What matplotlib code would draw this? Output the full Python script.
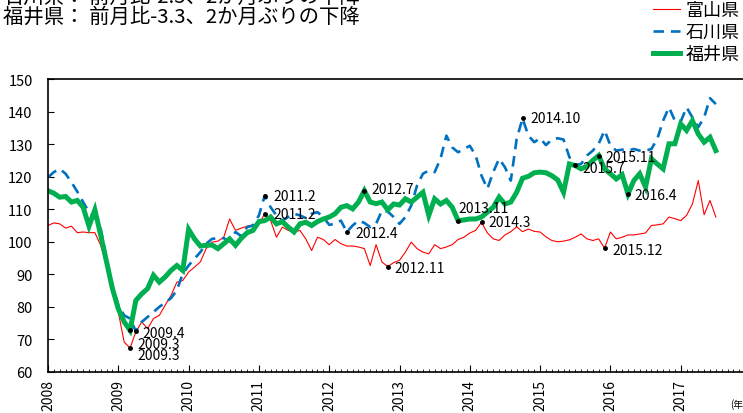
import numpy as np
import matplotlib
matplotlib.use('Agg')
import matplotlib.pyplot as plt
from matplotlib.ticker import FixedLocator, MultipleLocator

plt.rcParams['font.family'] = ['Noto Sans CJK JP', 'DejaVu Sans']

# monthly index, 2008.1 -> 2017.7
years = list(range(2008, 2018))

toyama = [105.0, 105.8, 105.5, 104.2, 104.8, 102.8, 103.0, 102.8, 102.8, 98.9,
          92.7, 85.6, 78.4, 69.2, 67.4, 72.3, 75.4, 73.3, 76.4, 77.4,
          80.5, 83.5, 87.6, 88.1, 90.7, 92.2, 93.8, 97.9, 99.9, 100.2,
          101.4, 107.0, 103.5, 104.2, 104.8, 105.2, 105.5, 108.6, 106.5, 101.4,
          104.5, 103.5, 103.0, 103.5, 100.9, 97.3, 101.4, 100.7, 99.1, 100.7,
          99.4, 98.7, 98.7, 98.4, 97.9, 92.7, 99.1, 93.8, 92.4, 93.6,
          94.3, 96.8, 99.9, 97.9, 96.8, 96.3, 99.1, 97.9, 98.4, 99.1,
          100.7, 101.4, 102.7, 103.5, 106.0, 102.7, 100.9, 100.4, 102.1, 103.1,
          104.6, 103.1, 103.9, 103.2, 103.0, 101.5, 100.4, 100.0, 100.2, 100.6,
          101.4, 102.4, 100.9, 100.4, 100.9, 98.0, 103.0, 100.9, 101.4, 102.1,
          102.1, 102.4, 102.7, 105.0, 105.2, 105.5, 107.6, 107.1, 106.5, 108.1,
          111.6, 118.8, 108.3, 112.7, 107.6]

ishikawa = [119.8, 121.4, 122.4, 120.9, 118.3, 115.4, 112.2, 109.1, 107.6, 104.0,
            94.8, 86.6, 80.5, 77.4, 76.4, 72.5, 75.4, 76.9, 78.4, 80.0,
            81.3, 82.7, 85.1, 90.2, 92.7, 94.8, 96.8, 99.4, 100.9, 101.1,
            101.1, 100.1, 103.0, 101.7, 104.5, 105.0, 108.1, 114.2, 110.6, 108.1,
            106.5, 107.6, 108.6, 108.1, 107.3, 108.6, 109.1, 107.6, 105.2, 105.5,
            106.5, 103.0, 105.0, 106.5, 105.8, 104.5, 105.5, 109.6, 109.3, 107.6,
            105.5, 107.6, 111.1, 117.3, 120.9, 121.9, 121.4, 125.5, 132.6, 129.0,
            127.5, 128.5, 129.5, 126.5, 120.3, 116.3, 121.4, 125.5, 122.9, 118.8,
            131.6, 137.9, 132.6, 130.6, 131.8, 129.7, 131.4, 131.8, 131.4, 126.0,
            123.6, 123.9, 126.5, 128.0, 130.1, 134.2, 129.6, 128.0, 128.3, 128.0,
            128.5, 128.0, 128.0, 128.5, 131.6, 137.2, 141.3, 137.2, 136.9, 141.3,
            138.2, 135.2, 138.2, 144.1, 142.3]

fukui = [115.7, 114.9, 113.7, 113.9, 112.2, 112.7, 110.6, 104.8, 109.8, 102.0,
         93.8, 85.6, 79.4, 75.4, 72.8, 82.0, 84.0, 85.6, 89.7, 87.6,
         89.2, 91.2, 92.7, 91.2, 103.8, 100.9, 98.7, 98.9, 99.0, 97.9,
         99.4, 100.9, 98.9, 101.1, 102.8, 103.5, 106.2, 106.5, 107.6, 105.5,
         106.2, 104.5, 103.0, 105.5, 106.0, 105.0, 106.2, 107.0, 107.6, 108.6,
         110.6, 111.1, 110.1, 112.2, 115.7, 112.2, 111.7, 112.2, 109.8, 111.6,
         111.3, 113.2, 112.2, 113.7, 115.2, 108.1, 113.2, 111.6, 112.7, 110.6,
         106.5, 106.7, 107.0, 107.0, 107.6, 109.1, 110.6, 113.7, 111.6, 112.2,
         115.2, 119.5, 120.1, 121.2, 121.4, 121.2, 120.3, 119.0, 115.2, 123.9,
         123.4, 122.4, 123.2, 125.0, 126.5, 122.4, 120.9, 119.3, 120.6, 114.7,
         118.8, 120.9, 116.8, 125.5, 123.9, 122.4, 130.1, 130.1, 136.2, 134.2,
         137.2, 133.1, 130.6, 132.1, 128.0]

# marked turning points: (label, series)
ann_labels = ['2009.3', '2009.3', '2009.4', '2011.2', '2011.2', '2012.4', '2012.7',
              '2012.11', '2013.11', '2014.3', '2014.10', '2015.7', '2015.11',
              '2015.12', '2016.4']
ann_series = ['fukui', 'toyama', 'ishikawa', 'ishikawa', 'toyama', 'ishikawa', 'fukui',
              'toyama', 'fukui', 'toyama', 'ishikawa', 'ishikawa', 'fukui',
              'toyama', 'fukui']
ann_offsets = [(5, -10), (5, -5), (5, -1), (6, 0), (6, 0), (6, -1), (5, 1),
               (5, -1), (0, 9), (5, 0), (6, 0), (5, -2), (5, -1),
               (6, -1), (5, -1)]

series = {'toyama': toyama, 'ishikawa': ishikawa, 'fukui': fukui}


def month_index(label):
    y, m = label.split('.')
    return (int(y) - 2008) * 12 + int(m) - 1


fig = plt.figure(figsize=(7.43, 4.14), dpi=100)
ax = fig.add_axes([48 / 743, 1 - 373 / 414, 703 / 743, 293 / 414])

x = np.arange(len(fukui))
ax.plot(x, toyama, color='#FF0000', lw=0.8, label='富山県')
ax.plot(x, ishikawa, color='#0070C0', lw=1.9, linestyle=(0, (4, 2.6)), label='石川県')
ax.plot(x, fukui, color='#00B050', lw=3.6, label='福井県', solid_joinstyle='miter')

for lab, s, off in zip(ann_labels, ann_series, ann_offsets):
    i = month_index(lab)
    v = series[s][i]
    ax.plot(i, v, 'o', color='black', ms=2.5, zorder=5)
    ax.annotate(lab, (i, v), xytext=off, textcoords='offset points',
                ha='left', va='center', fontsize=10, zorder=6)

ax.set_xlim(0, 120)
ax.set_ylim(60, 150)
ax.yaxis.set_major_locator(MultipleLocator(10))
ax.xaxis.set_major_locator(FixedLocator([(y - 2008) * 12 for y in years]))
ax.xaxis.set_minor_locator(MultipleLocator(1))
ax.set_xticklabels([str(y) for y in years], rotation=90, fontsize=10)
ax.tick_params(axis='y', direction='in', length=4, labelsize=10.5, pad=11)
ax.tick_params(axis='x', which='major', direction='in', length=5, pad=5)
ax.tick_params(axis='x', which='minor', direction='in', length=2.5)
for sp in ax.spines.values():
    sp.set_linewidth(1.2)
ax.spines['right'].set_visible(False)

fig.text(3 / 743, 1 + 3 / 414, '石川県： 前月比-2.5、2か月ぶりの下降', fontsize=14.7, va='center')
fig.text(3 / 743, 1 - 17 / 414, '福井県： 前月比-3.3、2か月ぶりの下降', fontsize=14.7, va='center')
fig.text(730 / 743, 1 - 405 / 414, '(年)', fontsize=7, va='center')

fig.legend(loc='upper left', bbox_to_anchor=(653 / 743, 1 - 2 / 414), frameon=False,
           fontsize=13, handlelength=1.5, handletextpad=0.3, labelspacing=0.22,
           borderpad=0, borderaxespad=0)

fig.savefig('out.png', dpi=100)
